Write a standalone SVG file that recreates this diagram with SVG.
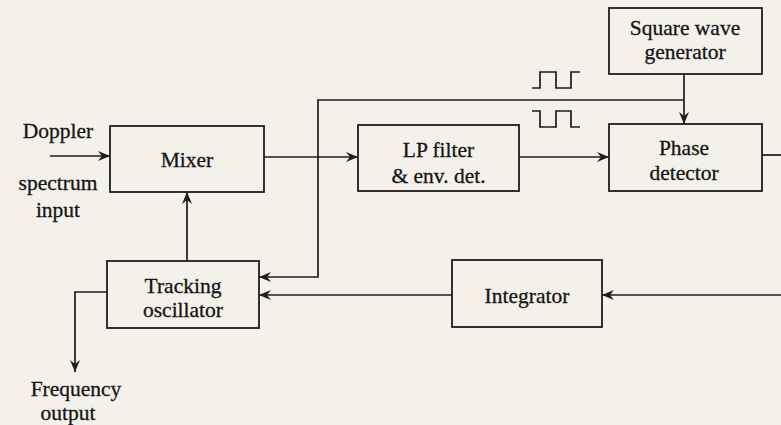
<svg xmlns="http://www.w3.org/2000/svg" width="781" height="425" viewBox="0 0 781 425">
<style>
.box{fill:none;stroke:#1d1d1d;stroke-width:1.8}
.ln{fill:none;stroke:#1d1d1d;stroke-width:1.7}
.t{font-family:"Liberation Serif","Times New Roman",serif;font-size:21.5px;fill:#151515;stroke:#151515;stroke-width:0.3;text-anchor:middle}
</style>
<defs>
<marker id="arr" markerUnits="userSpaceOnUse" markerWidth="14" markerHeight="12" refX="12" refY="5" orient="auto">
<path d="M0,0 L12,5 L0,10 L4,5 z" fill="#1d1d1d"/>
</marker>
</defs>
<rect width="781" height="425" fill="#f4f1ea"/>

<g id="connectors">
<line class="ln" x1="50" y1="156" x2="110" y2="156" marker-end="url(#arr)"/>
<line class="ln" x1="264" y1="157" x2="358" y2="157" marker-end="url(#arr)"/>
<line class="ln" x1="519" y1="157" x2="609" y2="157" marker-end="url(#arr)"/>
<line class="ln" x1="684" y1="74" x2="684" y2="124" marker-end="url(#arr)"/>
<polyline class="ln" points="684,100 318,100 318,277 259,277" marker-end="url(#arr)"/>
<line class="ln" x1="762" y1="155" x2="781" y2="155"/>
<line class="ln" x1="781" y1="295" x2="602" y2="295" marker-end="url(#arr)"/>
<line class="ln" x1="452" y1="295" x2="259" y2="295" marker-end="url(#arr)"/>
<line class="ln" x1="187" y1="261" x2="187" y2="192" marker-end="url(#arr)"/>
<polyline class="ln" points="107,292 75,292 75,372" marker-end="url(#arr)"/>
<polyline class="ln" points="532,88 540,88 540,72 556,72 556,88 571,88 571,72 580,72"/>
<polyline class="ln" points="532,111 540,111 540,127 556,127 556,111 571,111 571,127 580,127"/>
</g>

<g id="doppler-input">
<text class="t" x="58" y="138">Doppler</text>
<text class="t" x="58" y="190">spectrum</text>
<text class="t" x="58" y="217">input</text>
</g>

<g id="mixer">
<rect class="box" x="110" y="126" width="154" height="66"/>
<text class="t" x="187" y="167">Mixer</text>
</g>

<g id="lp-filter">
<rect class="box" x="358" y="125" width="161" height="66"/>
<text class="t" x="438.5" y="157">LP filter</text>
<text class="t" x="438.5" y="183">&amp; env. det.</text>
</g>

<g id="square-wave-generator">
<rect class="box" x="609" y="8" width="153" height="66"/>
<text class="t" x="685" y="35">Square wave</text>
<text class="t" x="685" y="59">generator</text>
</g>

<g id="phase-detector">
<rect class="box" x="609" y="124" width="153" height="67"/>
<text class="t" x="684" y="155">Phase</text>
<text class="t" x="684" y="180">detector</text>
</g>

<g id="integrator">
<rect class="box" x="452" y="260" width="150" height="67"/>
<text class="t" x="527" y="303">Integrator</text>
</g>

<g id="tracking-oscillator">
<rect class="box" x="107" y="261" width="152" height="67"/>
<text class="t" x="183" y="293">Tracking</text>
<text class="t" x="183" y="317">oscillator</text>
</g>

<g id="frequency-output">
<text class="t" x="76" y="396">Frequency</text>
<text class="t" x="68" y="420">output</text>
</g>
</svg>
